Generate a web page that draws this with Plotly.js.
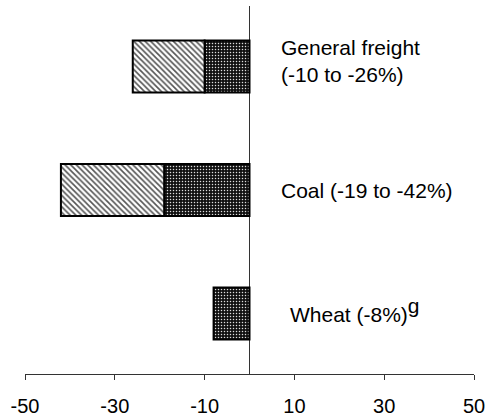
<!DOCTYPE html>
<html>
<head>
<meta charset="utf-8">
<script src="https://cdn.plot.ly/plotly-3.0.1.min.js"></script>
<style>html,body{margin:0;padding:0;background:#fff;}#chart{width:487px;height:418px;}</style>
</head>
<body>
<div id="chart"></div>
<script>
// Data
const categories = ['Wheat', 'Coal', 'General freight'];
const lowerEstimate = [-8, -19, -10];     // dotted segment (from 0)
const upperEstimate = [null, -42, -26];   // full extent of hatched range
const labels = ['Wheat (-8%)<sup><span style="font-size:21px">g</span></sup>', 'Coal (-19 to -42%)', 'General freight<br>(-10 to -26%)'];
const xTicks = [-50, -30, -10, 10, 30, 50];

const extra = upperEstimate.map((u, i) => u === null ? null : u - lowerEstimate[i]);

const dotted = {
  type: 'bar', orientation: 'h', y: categories, x: lowerEstimate, width: 0.42,
  marker: {color: '#111', line: {color: '#000', width: 2},
    pattern: {shape: '.', fgcolor: '#dddddd', bgcolor: '#111', size: 3, solidity: 0.2, fillmode: 'replace'}},
  hoverinfo: 'skip'
};
const hatched = {
  type: 'bar', orientation: 'h', y: categories, x: extra, width: 0.42,
  marker: {color: '#fff', line: {color: '#000', width: 2},
    pattern: {shape: '\\', fgcolor: '#555', bgcolor: '#fff', size: 4, solidity: 0.4, fillmode: 'replace'}},
  hoverinfo: 'skip'
};

const annotations = labels.map((t, i) => ({
  text: t, xref: 'paper', yref: 'y', x: i === 0 ? 0.585 : 0.566, y: categories[i],
  yshift: i === 2 ? 6 : (i === 0 ? 3 : 0),
  xanchor: 'left', yanchor: 'middle', align: 'left', showarrow: false,
  font: {family: 'Liberation Sans, Arial, sans-serif', size: 21, color: '#000'}
}));

const layout = {
  width: 487, height: 418,
  margin: {l: 25, r: 13, t: 6, b: 44},
  paper_bgcolor: '#fff', plot_bgcolor: '#fff',
  barmode: 'relative', showlegend: false,
  font: {family: 'Liberation Sans, Arial, sans-serif', size: 20, color: '#000'},
  xaxis: {range: [-50, 50], tickvals: xTicks, ticktext: xTicks.map(String),
    showgrid: false, zeroline: true, zerolinecolor: '#333', zerolinewidth: 1,
    showline: true, linecolor: '#333', linewidth: 1, ticks: 'outside', ticklen: 5, tickcolor: '#333',
    ticklabelstandoff: 9, layer: 'above traces'},
  yaxis: {visible: false, type: 'category', categoryorder: 'array', categoryarray: categories,
    range: [-0.49, 2.49]},
  annotations: annotations
};

Plotly.newPlot('chart', [dotted, hatched], layout, {displayModeBar: false, staticPlot: true});
</script>
</body>
</html>
